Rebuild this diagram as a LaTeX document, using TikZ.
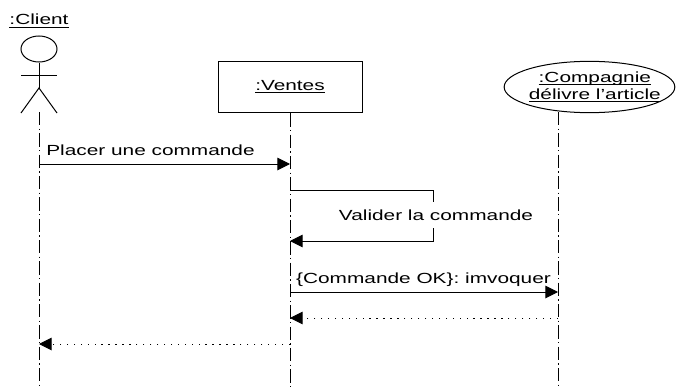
\documentclass[tikz,border=0pt]{standalone}
\usepackage{fontspec}
\setmainfont[FakeStretch=1.42]{Liberation Sans}
\usetikzlibrary{arrows.meta,shapes.geometric}
\newcommand{\objname}[1]{\underline{\raisebox{0pt}[\height][0pt]{#1}}}

\begin{document}
\begin{tikzpicture}[x=0.75pt,y=-0.75pt,>={Triangle[length=9.5pt,width=9.5pt]},line width=0.75pt,
    lifeline/.style={dash pattern=on 10pt off 2.5pt on 1pt off 2.5pt},
    message/.style={->,shorten >=0pt},
    reply/.style={->,dash pattern=on 1pt off 4.2pt},
    object node/.style={draw,inner sep=0pt,font=\fontsize{11}{12.75}\selectfont,align=center},
    label node/.style={inner sep=1pt,font=\fontsize{11}{12.75}\selectfont}]
\useasboundingbox (0,0) rectangle (676,389);

% objects
\node[label node]                                               (client)    at (39,21)   {\objname{:Client}};
\node[object node,ellipse,minimum width=27pt,minimum height=19.5pt] (head)  at (39,49)   {};
\node[object node,rectangle,minimum width=108pt,minimum height=38.5pt] (ventes) at (290,87) {\objname{:Ventes}};
\node[object node,ellipse,inner xsep=-20pt,minimum width=128pt,minimum height=38.5pt] (compagnie) at (589.5,87) {\hspace{8pt}\objname{:Compagnie}\\\hspace{8pt}\objname{délivre l'article}};

% the actor
\coordinate (neck)     at (39,62);
\coordinate (armleft)  at (21,75);
\coordinate (armright) at (57,75);
\coordinate (hip)      at (39,88);
\coordinate (legleft)  at (21,113);
\coordinate (legright) at (57,113);
\draw (head.south) -- (hip);
\draw (armleft) -- (armright);
\draw (legleft) -- (hip) -- (legright);

% lifelines
\coordinate (clienttop)    at (39,112);
\coordinate (clientend)    at (39,389);
\coordinate (ventesend)    at (290,389);
\coordinate (compagnietop) at (558,112);
\coordinate (compagnieend) at (558,389);
\draw[lifeline] (clienttop) -- (clientend);
\draw[lifeline] (ventes.south) -- (ventesend);
\draw[lifeline] (compagnietop) -- (compagnieend);

% messages
\coordinate (m1a) at (39,164);
\coordinate (m1b) at (290,164);
\coordinate (m2a) at (290,190);
\coordinate (m2b) at (433,190);
\coordinate (m2c) at (433,241);
\coordinate (m2d) at (290,241);
\coordinate (m3a) at (290,292);
\coordinate (m3b) at (558,292);
\coordinate (m4a) at (558,318);
\coordinate (m4b) at (290,318);
\coordinate (m5a) at (290,344);
\coordinate (m5b) at (39,344);
\draw[message] (m1a) -- (m1b);
\draw[message] (m2a) -- (m2b) -- (m2c) -- (m2d);
\draw[message] (m3a) -- (m3b);
\draw[reply] (m4a) -- (m4b);
\draw[reply] (m5a) -- (m5b);

\node[label node]                 (placer)  at (150.5,150) {Placer une commande};
\node[label node,fill=white,minimum height=19.5pt] (valider) at (436,215)   {Valider la commande};
\node[label node]                 (invoke)  at (423.5,280) {\{Commande OK\}: imvoquer};
\end{tikzpicture}
\end{document}
